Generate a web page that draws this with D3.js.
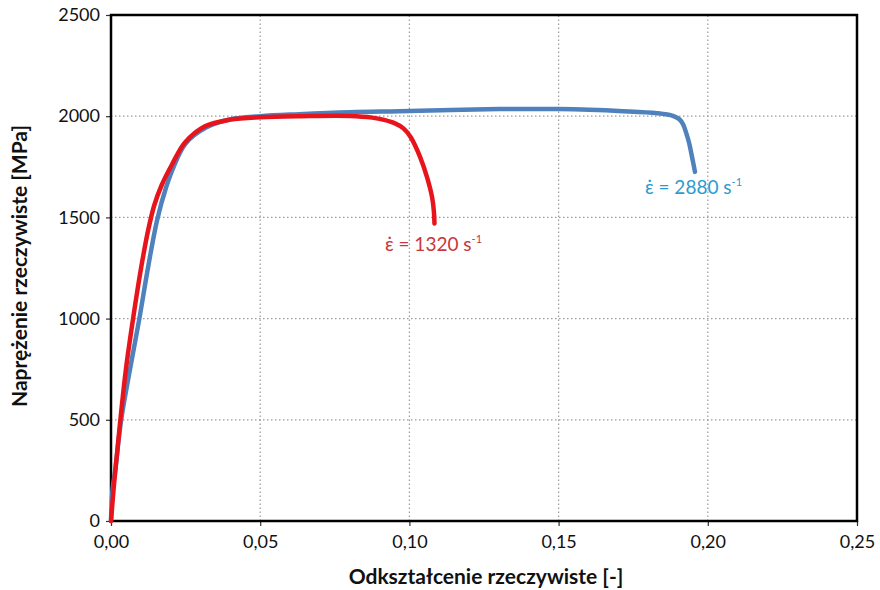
<!DOCTYPE html>
<html>
<head>
<meta charset="utf-8">
<script src="https://cdn.jsdelivr.net/npm/d3@7"></script>
<style>
  body { margin: 0; background: white; }
  svg { display: block; font-family: Lato, "Open Sans", sans-serif; }
</style>
</head>
<body>
<div id="chart"></div>
<script>
// reading from the picture
var redStrain = [0, 0.001, 0.002, 0.003, 0.005, 0.0074, 0.0102, 0.0125, 0.0145, 0.017, 0.0204, 0.0248, 0.0315, 0.04, 0.05, 0.064, 0.08, 0.0875, 0.0915, 0.095, 0.098, 0.1005, 0.1036, 0.1059, 0.1076, 0.1082, 0.1084];
var redStress = [0, 180, 330, 480, 750, 1000, 1260, 1440, 1560, 1660, 1760, 1870, 1950, 1983, 1995, 2000, 2001, 1993, 1982, 1966, 1940, 1895, 1798, 1699, 1600, 1530, 1470];

var blueStrain = [0, 0.0005, 0.0015, 0.0034, 0.0065, 0.0095, 0.0125, 0.0155, 0.0185, 0.021, 0.025, 0.032, 0.04, 0.05, 0.063, 0.08, 0.0965, 0.13, 0.15, 0.1715, 0.183, 0.1883, 0.1905, 0.1917, 0.1927, 0.1937, 0.1947, 0.1957];
var blueStress = [0, 150, 260, 500, 760, 1000, 1260, 1490, 1650, 1750, 1865, 1945, 1985, 2000, 2010, 2020, 2025, 2035, 2035, 2025, 2015, 2002, 1985, 1960, 1920, 1870, 1800, 1725];

var xTicks = [0, 0.05, 0.10, 0.15, 0.20, 0.25];
var yTicks = [0, 500, 1000, 1500, 2000, 2500];

var width = 880, height = 590;
var margin = {left: 111, right: 23, top: 15, bottom: 69};

var svg = d3.select("#chart").append("svg")
    .attr("width", width)
    .attr("height", height);

var x = d3.scaleLinear().domain([0, 0.25]).range([margin.left, width - margin.right]);
var y = d3.scaleLinear().domain([0, 2500]).range([height - margin.bottom, margin.top]);

var fmt = function(d) { return d3.format(".2f")(d).replace(".", ","); };

// grid, dotted
svg.append("g").selectAll("line.vg")
    .data(xTicks.slice(1, -1))
    .enter().append("line")
    .attr("x1", d => x(d)).attr("x2", d => x(d))
    .attr("y1", y(0)).attr("y2", y(2500))
    .attr("stroke", "#9a9a9a").attr("stroke-width", 1.2)
    .attr("stroke-dasharray", "1.5,2.5");

svg.append("g").selectAll("line.hg")
    .data(yTicks.slice(1, -1))
    .enter().append("line")
    .attr("y1", d => y(d)).attr("y2", d => y(d))
    .attr("x1", x(0)).attr("x2", x(0.25))
    .attr("stroke", "#9a9a9a").attr("stroke-width", 1.2)
    .attr("stroke-dasharray", "1.5,2.5");

// axes
var xAxis = svg.append("g")
    .attr("transform", "translate(0," + y(0) + ")")
    .call(d3.axisBottom(x).tickValues(xTicks).tickFormat(fmt).tickSize(5).tickPadding(9));

var yAxis = svg.append("g")
    .attr("transform", "translate(" + x(0) + ",0)")
    .call(d3.axisLeft(y).tickValues(yTicks).tickFormat(d3.format("d")).tickSize(5).tickPadding(6));

[xAxis, yAxis].forEach(function(g) {
  g.select(".domain").remove();
  g.selectAll("line").attr("stroke", "#333").attr("stroke-width", 1.2);
  g.selectAll("text").attr("font-size", 18).attr("fill", "#111")
    .attr("font-family", "Lato, 'Open Sans', sans-serif");
});

// frame
svg.append("rect")
    .attr("x", x(0)).attr("y", y(2500))
    .attr("width", x(0.25) - x(0)).attr("height", y(0) - y(2500))
    .attr("fill", "none").attr("stroke", "black").attr("stroke-width", 2.5);

// curves
var line = d3.line()
    .x(d => x(d[0])).y(d => y(d[1]))
    .curve(d3.curveCatmullRom.alpha(0.5));

svg.append("path")
    .datum(d3.zip(blueStrain, blueStress))
    .attr("d", line)
    .attr("fill", "none").attr("stroke", "#4f81bd")
    .attr("stroke-width", 4.5).attr("stroke-linejoin", "round").attr("stroke-linecap", "round");

svg.append("path")
    .datum(d3.zip(redStrain, redStress))
    .attr("d", line)
    .attr("fill", "none").attr("stroke", "#e8141c")
    .attr("stroke-width", 4.5).attr("stroke-linejoin", "round").attr("stroke-linecap", "round");

// annotations
function rateLabel(px, py, value, col) {
  var t = svg.append("text")
      .attr("x", px).attr("y", py)
      .attr("font-size", 19).attr("fill", col);
  t.append("tspan").text("\u03b5\u0307 = " + value + " s");
  t.append("tspan").attr("font-size", 11).attr("dy", -8).text("-1");
}
rateLabel(385, 251, "1320", "#c8373a");
rateLabel(645, 194, "2880", "#2a9bd0");

// axis titles
svg.append("text")
    .attr("x", 486).attr("y", 584)
    .attr("text-anchor", "middle")
    .attr("font-size", 21).attr("font-weight", "bold").attr("fill", "#111")
    .text("Odkształcenie rzeczywiste [-]");

svg.append("text")
    .attr("transform", "translate(27," + 266 + ") rotate(-90)")
    .attr("text-anchor", "middle")
    .attr("font-size", 21).attr("font-weight", "bold").attr("fill", "#111")
    .text("Naprężenie rzeczywiste [MPa]");
</script>
</body>
</html>
